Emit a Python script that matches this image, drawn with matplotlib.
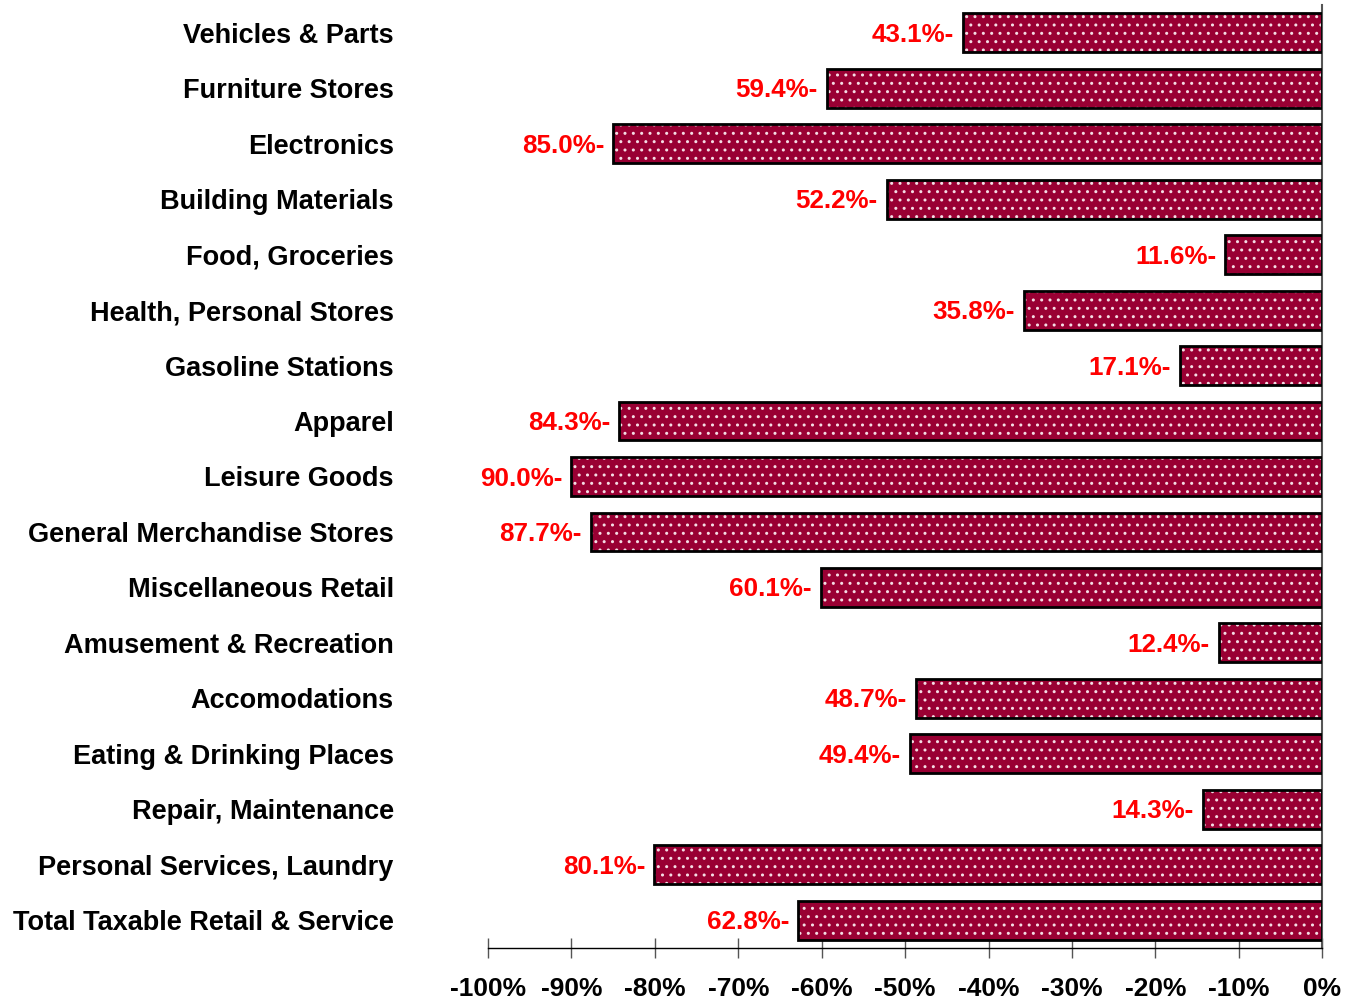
import matplotlib
matplotlib.use("Agg")
import matplotlib.pyplot as plt
import numpy as np

# Data
categories = ["Vehicles & Parts", "Furniture Stores", "Electronics", "Building Materials",
              "Food, Groceries", "Health, Personal Stores", "Gasoline Stations", "Apparel",
              "Leisure Goods", "General Merchandise Stores", "Miscellaneous Retail",
              "Amusement & Recreation", "Accomodations", "Eating & Drinking Places",
              "Repair, Maintenance", "Personal Services, Laundry",
              "Total Taxable Retail & Service"]
changes = [-43.1, -59.4, -85.0, -52.2, -11.6, -35.8, -17.1, -84.3, -90.0, -87.7,
           -60.1, -12.4, -48.7, -49.4, -14.3, -80.1, -62.8]
xticks = [-100, -90, -80, -70, -60, -50, -40, -30, -20, -10, 0]

plt.rcParams['font.family'] = ['Liberation Sans', 'DejaVu Sans']
plt.rcParams['hatch.linewidth'] = 1.0

fig = plt.figure(figsize=(13.52, 10), dpi=100)
ax = fig.add_axes([0.361, 0.052, 0.617, 0.943])

y = np.arange(len(categories))

# filled bars with white dot pattern, then black outline on top
ax.barh(y, changes, height=0.7, color='#990033', edgecolor='#f4dde4', hatch='..',
        linewidth=0, zorder=2)
ax.barh(y, changes, height=0.7, fill=False, edgecolor='black', linewidth=2, zorder=3)

for yi, v in zip(y, changes):
    ax.annotate("%.1f%%-" % abs(v), xy=(v, yi), xytext=(-9, -2), textcoords='offset pixels',
                ha='right', va='center', color='#ff0000', fontsize=18.7, fontweight='bold')

ax.set_xlim(-100, 0)
ax.set_ylim(len(categories) - 0.5, -0.5)
ax.set_xticks(xticks)
ax.set_xticklabels(["%d%%" % t for t in xticks], fontsize=19, fontweight='bold')
ax.set_yticks(y)
ax.set_yticklabels(categories, fontsize=19.5, fontweight='bold')
ax.tick_params(axis='y', length=0, pad=68)
ax.tick_params(axis='x', direction='inout', length=14, width=1, color='#555555', pad=14)

for s in ['left', 'top']:
    ax.spines[s].set_visible(False)
ax.spines['bottom'].set_linewidth(1)
ax.spines['right'].set_color('#555555')
ax.spines['right'].set_linewidth(1.5)

fig.savefig("out.png", dpi=100)
